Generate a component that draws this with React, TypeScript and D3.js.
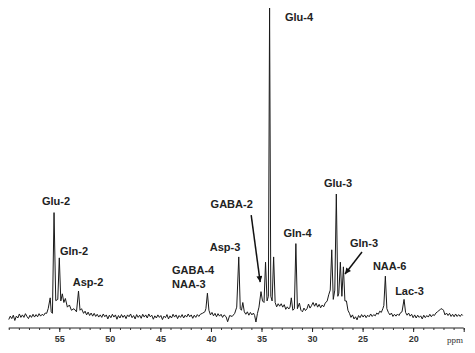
import React, { useRef, useEffect } from "react";
import * as d3 from "d3";

// spectrum: [ppm, intensity] pairs, high ppm -> low ppm
const spectrum: [number, number][] = [
  [60.0, -0.5], [59.85, 0.6], [59.7, -0.2], [59.55, 0.9], [59.4, -0.8], [59.25, 0.6],
  [59.1, 0.0], [58.95, 1.3], [58.8, 0.2], [58.65, 1.0], [58.5, 0.2], [58.35, 1.4],
  [58.2, 0.5], [58.05, -0.2], [57.9, 0.9], [57.75, 0.2], [57.6, 1.2], [57.45, 0.3],
  [57.3, 1.1], [57.15, 0.4], [57.0, 1.4], [56.85, 0.6], [56.7, 1.2], [56.55, 0.8],
  [56.4, 1.6], [56.25, 1.5], [56.1, 3.0], [55.9, 6.5],
  [55.8, 2.0], [55.68, 1.5], [55.52, 34], [55.35, 5.6], [55.15, 6.0], [55.0, 19.4],
  [54.85, 5.5], [54.7, 7.8], [54.55, 5.0], [54.4, 6.3], [54.2, 3.5], [54.0, 4.2],
  [53.8, 2.5], [53.55, 3.0], [53.3, 2.0], [53.1, 8.7], [52.95, 2.5], [52.8, 3.0],
  [52.6, 1.5], [52.45, 2.2], [52.3, 1.0], [52.15, 1.9], [52.0, 0.8], [51.85, 1.6],
  [51.7, 0.6], [51.55, 1.5], [51.4, 0.5], [51.25, 1.2], [51.1, 0.3], [50.95, 1.0],
  [50.8, 0.2], [50.65, 1.3], [50.5, 0.4], [50.35, 1.0], [50.2, -0.3], [50.05, 0.9],
  [49.9, 0.1], [49.75, 1.2], [49.6, 0.3], [49.45, 1.0], [49.3, -0.4], [49.15, 0.8],
  [49.0, 0.0], [48.85, 1.1], [48.7, 0.2], [48.55, 0.9], [48.4, -0.2], [48.25, 1.0],
  [48.1, 0.4], [47.95, 1.3], [47.8, 0.1], [47.65, 0.8], [47.5, -0.3], [47.35, 1.1],
  [47.2, 0.2], [47.05, 0.9], [46.9, -0.1], [46.75, 1.2], [46.6, 0.3], [46.45, 1.0],
  [46.3, 0.0], [46.15, 1.3], [46.0, 0.4], [45.85, 0.9], [45.7, -0.4], [45.55, 0.7],
  [45.4, 0.0], [45.25, 1.0], [45.1, 0.2], [44.95, 0.8], [44.8, -0.5], [44.65, 0.6],
  [44.5, 0.1], [44.35, 1.1], [44.2, -0.3], [44.05, 0.7], [43.9, 0.0], [43.75, 1.2],
  [43.6, 0.3], [43.45, 1.0], [43.3, -0.2], [43.15, 0.8], [43.0, 0.2], [42.85, 1.1],
  [42.7, 0.0], [42.55, 0.9], [42.4, 0.3], [42.25, 1.3], [42.1, 0.4], [41.95, 1.0],
  [41.8, -0.1], [41.65, 0.9], [41.5, 0.2], [41.35, 1.1], [41.2, 0.5], [41.05, 1.2],
  [40.85, 1.5], [40.6, 2.0], [40.5, 3.0], [40.35, 8.0], [40.2, 2.5], [40.05, 1.0],
  [39.9, 1.8], [39.75, 0.7], [39.6, 1.5], [39.45, 0.4], [39.3, 1.4], [39.15, 0.6],
  [39.0, 1.2], [38.85, 0.2], [38.7, 1.0], [38.5, 0.4], [38.35, -1.2],
  [38.15, 0.8], [37.9, 0.5], [37.65, 1.5], [37.45, 3.5], [37.25, 19.7], [37.1, 3.0],
  [36.98, 2.5], [36.85, 5.0], [36.7, 2.0], [36.55, 1.2], [36.4, 2.0], [36.25, 0.9],
  [36.1, 1.8], [35.95, 1.0], [35.8, 1.6], [35.68, 0.8], [35.55, -1.3], [35.4, 1.5],
  [35.25, 3.5], [35.05, 8.5],
  [34.9, 5.5], [34.75, 5.0], [34.6, 18], [34.45, 5.5], [34.32, 7.0], [34.2, 100],
  [34.08, 7.0], [33.95, 5.5], [33.8, 19.7], [33.65, 5.0], [33.5, 3.6], [33.35, 4.6],
  [33.2, 3.8], [33.05, 4.6], [32.9, 3.5], [32.75, 4.3], [32.6, 2.8], [32.45, 3.6],
  [32.3, 2.9], [32.18, 3.5], [32.05, 6.5],
  [31.9, 2.5], [31.75, 3.0], [31.6, 24], [31.45, 3.0], [31.25, 4.8], [31.1, 2.5],
  [30.95, 2.0], [30.8, 3.2], [30.65, 2.4], [30.5, 3.0], [30.35, 4.5], [30.2, 3.2],
  [30.05, 4.0], [29.9, 5.0], [29.75, 3.8], [29.6, 4.8], [29.45, 3.5], [29.3, 4.4],
  [29.15, 3.3], [29.0, 4.2], [28.85, 3.6], [28.7, 4.8],
  [28.5, 5.5], [28.35, 7.5], [28.2, 9.0], [28.05, 22], [27.9, 6.0], [27.75, 9.0],
  [27.6, 40], [27.45, 7.0], [27.35, 8.0], [27.2, 18], [27.05, 7.0], [26.9, 16.5],
  [26.75, 5.5], [26.6, 5.5], [26.45, 2.5], [26.3, 1.5], [26.15, 0.2], [26.0, 1.0],
  [25.85, -0.3], [25.7, 0.4], [25.55, -0.6], [25.4, 0.8], [25.25, 0.1], [25.1, 1.1],
  [24.95, 0.3], [24.8, 1.0], [24.65, 0.1], [24.5, 0.9], [24.35, 0.4], [24.2, 1.3],
  [24.05, 0.5], [23.9, 1.1], [23.75, 0.7], [23.6, 1.6], [23.45, 1.2], [23.3, 2.2],
  [23.15, 1.8], [23.0, 3.0], [22.9, 4.0],
  [22.75, 13.5], [22.6, 3.0], [22.45, 1.8], [22.3, 1.0], [22.15, 1.6], [22.0, 0.5],
  [21.85, 1.2], [21.7, 0.6], [21.55, 1.3], [21.4, 0.8], [21.25, 1.7], [21.1, 2.0],
  [20.9, 6.0], [20.75, 1.8], [20.6, 0.9], [20.45, 1.6], [20.3, 0.6], [20.15, 1.2],
  [20.0, 0.1], [19.85, 1.0], [19.7, 0.0], [19.55, 0.9], [19.4, 0.2], [19.25, 0.7],
  [19.1, -0.3], [18.95, 0.9], [18.8, 0.1], [18.65, 0.8], [18.5, 0.3], [18.35, 1.2],
  [18.2, 0.4], [18.05, 1.1], [17.9, 0.8], [17.75, 1.6], [17.6, 2.0], [17.45, 2.4],
  [17.3, 2.8], [17.15, 3.0], [17.0, 2.5], [16.85, 1.0], [16.7, 1.6], [16.55, 0.8],
  [16.4, 1.5], [16.25, 0.5], [16.1, 1.2], [15.95, 0.4], [15.8, 1.3], [15.65, 0.5],
  [15.5, 1.1], [15.35, 0.5], [15.2, 1.2], [15.1, 0.8],
];

// peak labels: text, center ppm, baseline intensity, anchor
const labels: { text: string; ppm: number; y: number; anchor: string }[] = [
  { text: "Glu-4", ppm: 31.29, y: 95.8, anchor: "middle" },
  { text: "Glu-2", ppm: 55.33, y: 36.5, anchor: "middle" },
  { text: "Gln-2", ppm: 53.55, y: 20.3, anchor: "middle" },
  { text: "Asp-2", ppm: 52.16, y: 10.3, anchor: "middle" },
  { text: "GABA-4", ppm: 43.85, y: 14.2, anchor: "start" },
  { text: "NAA-3", ppm: 43.85, y: 9.7, anchor: "start" },
  { text: "Asp-3", ppm: 38.61, y: 21.6, anchor: "middle" },
  { text: "GABA-2", ppm: 37.95, y: 35.5, anchor: "middle" },
  { text: "Gln-4", ppm: 31.44, y: 26.1, anchor: "middle" },
  { text: "Glu-3", ppm: 27.43, y: 42.3, anchor: "middle" },
  { text: "Gln-3", ppm: 24.86, y: 22.9, anchor: "middle" },
  { text: "NAA-6", ppm: 22.32, y: 15.5, anchor: "middle" },
  { text: "Lac-3", ppm: 20.36, y: 7.4, anchor: "middle" },
];

// arrows: from [ppm, intensity] to [ppm, intensity]
const arrows: [number, number, number, number][] = [
  [36.02, 33.2, 35.13, 11.6],
  [25.06, 21.3, 26.74, 14.2],
];

const majorTicks = [55, 50, 45, 40, 35, 30, 25, 20];

const App: React.FC = () => {
  const svgRef = useRef<SVGSVGElement>(null);

  useEffect(() => {
    const width = 475;
    const height = 353;
    const svg = d3.select(svgRef.current);
    svg.selectAll("*").remove();
    svg.attr("width", width).attr("height", height);

    const x = d3.scaleLinear().domain([60, 15]).range([8.75, 463.7]);
    const y = d3.scaleLinear().domain([0, 100]).range([318, 8]);
    const axisY = 328;

    svg.append("rect").attr("width", width).attr("height", height).attr("fill", "#fff");

    // arrowhead marker
    svg.append("defs")
      .append("marker")
      .attr("id", "head")
      .attr("viewBox", "0 0 10 10")
      .attr("refX", 10)
      .attr("refY", 5)
      .attr("markerWidth", 7)
      .attr("markerHeight", 6)
      .attr("markerUnits", "userSpaceOnUse")
      .attr("orient", "auto")
      .append("path")
      .attr("d", "M0,0 L10,5 L0,10 z")
      .attr("fill", "#111");

    // spectrum
    const line = d3.line<[number, number]>()
      .x(d => x(d[0]))
      .y(d => y(d[1]));

    svg.append("path")
      .datum(spectrum)
      .attr("d", line)
      .attr("fill", "none")
      .attr("stroke", "#1a1a1a")
      .attr("stroke-width", 1)
      .attr("stroke-linejoin", "round");

    // x axis (ppm, reversed)
    const axis = d3.axisBottom(x)
      .tickValues(d3.range(15, 61, 1))
      .tickSize(2)
      .tickFormat(() => "");
    const gMinor = svg.append("g").attr("transform", `translate(0,${axisY})`).call(axis);
    gMinor.select(".domain").attr("stroke", "#222").attr("d", `M${x(60)},0H${x(15)}`);
    gMinor.selectAll(".tick line").attr("stroke", "#333");

    const majorAxis = d3.axisBottom(x)
      .tickValues([...majorTicks, 15])
      .tickSize(4)
      .tickFormat(d => (majorTicks.includes(d as number) ? String(d) : ""));
    const gMajor = svg.append("g").attr("transform", `translate(0,${axisY})`).call(majorAxis);
    gMajor.select(".domain").remove();
    gMajor.selectAll(".tick line").attr("stroke", "#222");
    gMajor.selectAll(".tick text")
      .attr("y", 8)
      .attr("font-family", "Liberation Sans, Arial, sans-serif")
      .attr("font-size", 9)
      .attr("font-weight", "bold")
      .attr("fill", "#333");

    svg.append("text")
      .attr("x", 455)
      .attr("y", axisY + 15)
      .attr("text-anchor", "middle")
      .attr("font-family", "Liberation Serif, serif")
      .attr("font-size", 9)
      .attr("fill", "#333")
      .text("ppm");

    // arrows
    svg.selectAll(".arrow")
      .data(arrows)
      .enter()
      .append("line")
      .attr("class", "arrow")
      .attr("x1", d => x(d[0]))
      .attr("y1", d => y(d[1]))
      .attr("x2", d => x(d[2]))
      .attr("y2", d => y(d[3]))
      .attr("stroke", "#111")
      .attr("stroke-width", 1.5)
      .attr("marker-end", "url(#head)");

    // labels
    svg.selectAll(".lbl")
      .data(labels)
      .enter()
      .append("text")
      .attr("class", "lbl")
      .attr("x", d => x(d.ppm))
      .attr("y", d => y(d.y))
      .attr("text-anchor", d => d.anchor)
      .attr("font-family", "Liberation Sans, Arial, sans-serif")
      .attr("font-size", 11)
      .attr("font-weight", "bold")
      .attr("fill", "#222")
      .text(d => d.text);
  }, []);

  return (
    <div style={{ position: "absolute", left: 0, top: 0, width: 475, height: 353 }}>
      <svg ref={svgRef} style={{ display: "block" }} />
    </div>
  );
};

export default App;
